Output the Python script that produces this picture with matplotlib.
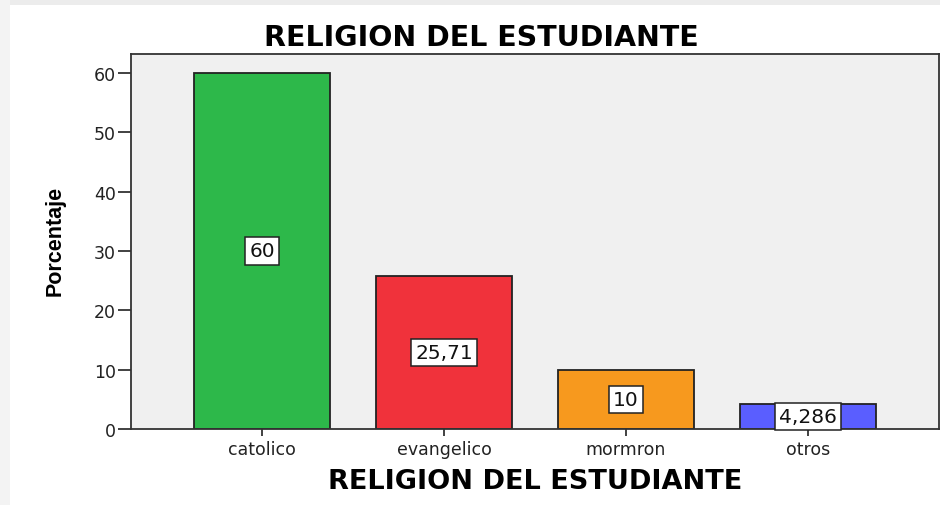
#!/usr/bin/env python3

import numpy as np
from matplotlib import pyplot as plt
from matplotlib.patches import Rectangle

# data
categories = ['catolico', 'evangelico', 'mormron', 'otros']
percentages = [60, 25.71, 10, 4.286]
value_labels = ['60', '25,71', '10', '4,286']
bar_colours = ['#2db84a', '#f0323b', '#f7991e', '#5a5eff']

TITLE = 'RELIGION DEL ESTUDIANTE'
Y_LABEL = 'Porcentaje'

# the screenshot is stretched sideways, so a wide sans works best
plt.rcParams['font.family'] = ['DejaVu Sans']

fig = plt.figure(figsize=(9.4, 5.06), dpi=100, facecolor='white')

# light grey frame at top and left, like the screenshot
fig.patches.append(Rectangle((0, 1 - 6 / 506), 1, 6 / 506, transform=fig.transFigure,
                             facecolor='#ececec', edgecolor='none', zorder=0))
fig.patches.append(Rectangle((0, 0), 10 / 940, 1, transform=fig.transFigure,
                             facecolor='#f3f3f3', edgecolor='none', zorder=0))

ax = fig.add_axes([131 / 940, 1 - 430 / 506, 808 / 940, 375 / 506])
ax.set_facecolor('#f0f0f0')

x = np.arange(len(categories))
ax.bar(x, percentages, width=0.747, color=bar_colours, edgecolor='#222222', linewidth=1.3, zorder=2)

# value boxes in the middle of each bar
for xi, val, lab in zip(x, percentages, value_labels):
    ax.text(xi, val / 2, lab, ha='center', va='center', fontsize=14.5, color='#111111', zorder=3,
            bbox=dict(boxstyle='square,pad=0.2', facecolor='white', edgecolor='#222222', linewidth=1.1))

ax.set_xlim(-0.72, 3.72)
ax.set_ylim(0, 63.2)
ax.set_yticks(np.arange(0, 61, 10))
ax.set_xticks(x)
ax.set_xticklabels(categories, fontsize=12.5, color='#222222')
ax.tick_params(axis='y', labelsize=12.5, labelcolor='#222222', length=9.5, width=1.3,
               color='#333333', pad=1.5)
ax.tick_params(axis='x', length=5, width=1.3, color='#333333', pad=3)

for sp in ax.spines.values():
    sp.set_color('#333333')
    sp.set_linewidth(1.3)

ax.set_xlabel(TITLE, fontsize=19.5, fontweight='bold')
ax.xaxis.set_label_coords(0.5, -(482 - 430) / 375)
ax.xaxis.label.set_va('center')

ax.set_ylabel(Y_LABEL, fontsize=15.5, fontweight='bold', family=['Liberation Sans', 'DejaVu Sans'])
ax.yaxis.set_label_coords((55 - 131) / 808, (430 - 241) / 375)
ax.yaxis.label.set_va('center')

fig.text(481 / 940, 1 - 38 / 506, TITLE, ha='center', va='center', fontsize=20.5, fontweight='bold')

fig.savefig('out.png', dpi=100, facecolor=fig.get_facecolor())
